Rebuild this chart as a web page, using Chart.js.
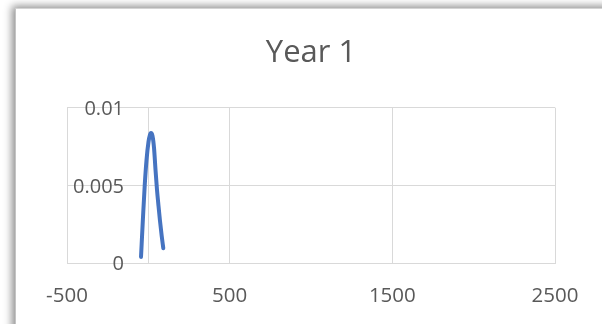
<!DOCTYPE html>
<html>
<head>
<meta charset="utf-8">
<script src="https://cdn.jsdelivr.net/npm/chart.js@4"></script>
<style>
  html, body { margin: 0; padding: 0; background: #ffffff; overflow: hidden; }
  body { width: 602px; height: 324px; position: relative; }
  #frame {
    position: absolute; left: 15px; top: 8px; width: 700px; height: 400px;
    background: #ffffff;
    border-left: 1px solid #c4c4c4; border-top: 1px solid #d4d4d4;
    box-shadow: -3px -2px 8px rgba(0,0,0,0.45);
  }
  #wrap { position: absolute; left: 0; top: 0; width: 602px; height: 324px; }
</style>
</head>
<body>
<div id="frame"></div>
<div id="wrap"><canvas id="chart" width="602" height="324"></canvas></div>
<script>
// Density curve for year 1
const xValues = [-45, -33, -22, -11, 1, 10, 16, 25.6, 34.9, 44.1, 53.3, 62.5, 71.7, 82.2, 92];
const yValues = [0.00039, 0.0029, 0.00503, 0.00665, 0.0078, 0.00825, 0.00837, 0.00819, 0.00742, 0.0060, 0.00471, 0.00368, 0.00271, 0.00174, 0.00095];

// Axis ticks
const xTicks = [-500, 500, 1500, 2500];
const yTicks = [0, 0.005, 0.01];
const yTickLabels = ['0', '0.005', '0.01'];

const points = xValues.map((x, i) => ({ x: x, y: yValues[i] }));

const gridColor = '#d9d9d9';
const textColor = '#595959';
const fontFamily = "'Open Sans', 'Liberation Sans', sans-serif";

const yRange = { min: yTicks[0], max: yTicks[yTicks.length - 1] };
const setYTicks = (scale) => { scale.ticks = yTicks.map(v => ({ value: v })); };

new Chart(document.getElementById('chart'), {
  type: 'scatter',
  data: {
    datasets: [{
      label: 'Year 1',
      data: points,
      showLine: true,
      borderColor: '#4674c1',
      borderWidth: 4,
      borderCapStyle: 'round',
      borderJoinStyle: 'round',
      cubicInterpolationMode: 'monotone',
      pointRadius: 0,
      pointHoverRadius: 0,
      fill: false
    }]
  },
  options: {
    responsive: false,
    animation: false,
    events: [],
    layout: { padding: { left: 67, right: 47, top: 0, bottom: 16.7 } },
    plugins: {
      legend: { display: false },
      tooltip: { enabled: false },
      title: {
        display: true,
        text: 'Year 1',
        color: textColor,
        font: { family: fontFamily, size: 31, weight: 'normal' },
        padding: { top: 35, bottom: 35.5 }
      }
    },
    scales: {
      x: {
        type: 'linear',
        position: 'bottom',
        min: xTicks[0],
        max: xTicks[xTicks.length - 1],
        afterBuildTicks: (scale) => { scale.ticks = xTicks.map(v => ({ value: v })); },
        afterFit: (scale) => { scale.height = 44.3; },
        grid: { color: gridColor, lineWidth: 1, drawTicks: false },
        border: { color: gridColor, width: 1 },
        ticks: {
          color: textColor,
          font: { family: fontFamily, size: 20.5 },
          padding: 21,
          maxRotation: 0,
          autoSkip: false,
          callback: (v) => String(v)
        }
      },
      // value axis crossing the horizontal axis at 0: grid lines and axis line
      y: {
        type: 'linear',
        position: { x: 0 },
        ...yRange,
        afterBuildTicks: setYTicks,
        grid: { color: gridColor, lineWidth: 1, drawTicks: false },
        border: { color: gridColor, width: 1 },
        ticks: { display: false }
      },
      // tick labels of the value axis, set just inside the plot area
      yLabels: {
        type: 'linear',
        position: 'left',
        ...yRange,
        afterBuildTicks: setYTicks,
        afterFit: (scale) => { scale.width = 0; },
        grid: { display: false, drawTicks: false },
        border: { display: false },
        ticks: {
          color: textColor,
          font: { family: fontFamily, size: 20 },
          mirror: true,
          crossAlign: 'far',
          padding: 6,
          labelOffset: 1.5,
          autoSkip: false,
          callback: (v) => { const i = yTicks.indexOf(v); return i >= 0 ? yTickLabels[i] : ''; }
        }
      }
    }
  }
});
</script>
</body>
</html>
